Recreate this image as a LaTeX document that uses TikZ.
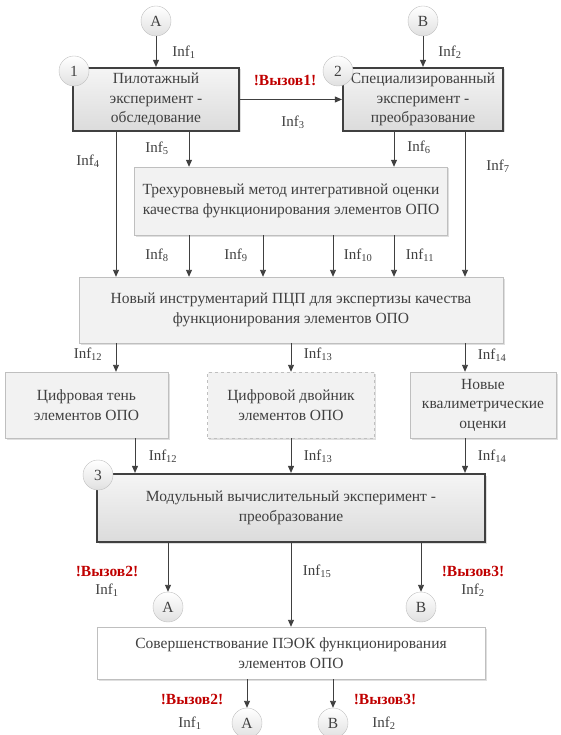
\documentclass[tikz,border=0pt]{standalone}
\usepackage{fontspec}
\setmainfont{Liberation Serif}
\usetikzlibrary{arrows.meta,positioning,shadows}
\definecolor{ink}{HTML}{404040}
\definecolor{frame}{HTML}{BFBFBF}
\definecolor{pale}{HTML}{F2F2F2}
\definecolor{alarm}{HTML}{C00000}
\tikzset{
  >={Triangle[length=7pt,width=6pt]},
  every node/.style={font=\fontsize{15.5}{19.5}\selectfont,text=ink},
  box/.style={draw=frame,fill=pale,align=center,inner sep=3pt,drop shadow={shadow xshift=1.5pt,shadow yshift=-1.5pt,opacity=.25}},
  stagebox/.style={box,draw=ink,line width=2.2pt,top color=white!96!black,bottom color=white!86!black},
  dashbox/.style={box,dashed},
  plainbox/.style={box,fill=white},
  point/.style={circle,draw=frame,minimum size=30pt,inner sep=0pt,top color=white,bottom color=white!88!black},
  arrow/.style={->,draw=ink,line width=0.9pt},
  flowlabel/.style={font=\fontsize{15}{17}\selectfont,inner sep=1pt},
  call/.style={font=\fontsize{15.5}{17}\selectfont\bfseries,text=alarm,inner sep=1pt},
}
\newcommand{\infn}[1]{Inf\textsubscript{#1}}

\begin{document}
\begin{tikzpicture}[x=1pt,y=-1pt]
\useasboundingbox (0,0) rectangle (561,735);

% lanes
\coordinate (lane4) at (116,0);
\coordinate (lane5) at (189,0);
\coordinate (lane9) at (263,0);
\coordinate (lane10) at (333,0);
\coordinate (lane6) at (394,0);
\coordinate (lane7) at (465,0);
\coordinate (lane12) at (135,0);

% experiments 1 and 2
\node[point] (inA) at (156,21) {A};
\node[point] (inB) at (423,21) {B};
\node[stagebox,minimum width=166pt,minimum height=63pt] (pilot) at (156,99.5) {Пилотажный\\ эксперимент -\\ обследование};
\node[stagebox,minimum width=160pt,minimum height=63pt] (spec) at (423,99.5) {Специализированный\\ эксперимент -\\ преобразование};
\node[point] (n1) at (74,71) {1};
\node[point] (n2) at (338,71) {2};

% method and toolkit
\node[box,minimum width=313pt,minimum height=68pt] (method) at (291,201) {Трехуровневый метод интегративной оценки\\ качества функционирования элементов ОПО};
\node[box,minimum width=424pt,minimum height=66pt] (tools) at (291,310) {Новый инструментарий ПЦП для экспертизы качества\\ функционирования элементов ОПО};

% outputs
\node[box,minimum width=163pt,minimum height=66pt] (shadow) at (86.5,405) {Цифровая тень\\ элементов ОПО};
\node[dashbox,minimum width=167pt,minimum height=66pt] (twin) at (291,405) {Цифровой двойник\\ элементов ОПО};
\node[box,minimum width=146pt,minimum height=66pt] (qual) at (483,405) {Новые\\ квалиметрические\\ оценки};

% experiment 3
\node[stagebox,minimum width=388pt,minimum height=68pt] (modul) at (291,508) {Модульный вычислительный эксперимент -\\ преобразование};
\node[point] (n3) at (98,475) {3};
\node[point] (outA) at (168,607) {A};
\node[point] (outB) at (421,607) {B};
\node[plainbox,minimum width=388pt,minimum height=52pt] (impr) at (291,653) {Совершенствование ПЭОК функционирования\\ элементов ОПО};
\node[point] (endA) at (247,723) {A};
\node[point] (endB) at (333,723) {B};

% connectors
\draw[arrow] (inA) -- (pilot);
\draw[arrow] (inB) -- (spec);
\draw[arrow] (pilot) -- (spec);
\draw[arrow] (pilot.south -| lane4) -- (tools.north -| lane4);
\draw[arrow] (pilot.south -| lane5) -- (method.north -| lane5);
\draw[arrow] (spec.south -| lane6) -- (method.north -| lane6);
\draw[arrow] (spec.south -| lane7) -- (tools.north -| lane7);
\foreach \l in {lane5,lane9,lane10,lane6}
  \draw[arrow] (method.south -| \l) -- (tools.north -| \l);
\draw[arrow] (tools.south -| lane4) -- (shadow.north -| lane4);
\draw[arrow] (tools) -- (twin);
\draw[arrow] (tools.south -| lane7) -- (qual.north -| lane7);
\draw[arrow] (shadow.south -| lane12) -- (modul.north -| lane12);
\draw[arrow] (twin) -- (modul);
\draw[arrow] (qual.south -| lane7) -- (modul.north -| lane7);
\draw[arrow] (modul.south -| outA) -- (outA);
\draw[arrow] (modul) -- (impr);
\draw[arrow] (modul.south -| outB) -- (outB);
\draw[arrow] (impr.south -| endA) -- (endA);
\draw[arrow] (impr.south -| endB) -- (endB);

% labels
\node[flowlabel] (l1) at (184,52) {\infn{1}};
\node[flowlabel] (l2) at (450,52) {\infn{2}};
\node[call] (v1) at (285,80) {!Вызов1!};
\node[flowlabel] (l3) at (293,122) {\infn{3}};
\node[flowlabel] (l4) at (88,161) {\infn{4}};
\node[flowlabel] (l5) at (157,148) {\infn{5}};
\node[flowlabel] (l6) at (419,147) {\infn{6}};
\node[flowlabel] (l7) at (498,166) {\infn{7}};
\node[flowlabel] (l8) at (157,255) {\infn{8}};
\node[flowlabel] (l9) at (236,255) {\infn{9}};
\node[flowlabel] (l10) at (358,255) {\infn{10}};
\node[flowlabel] (l11) at (420,255) {\infn{11}};
\node[flowlabel] (l12a) at (88,354) {\infn{12}};
\node[flowlabel] (l13a) at (318,354) {\infn{13}};
\node[flowlabel] (l14a) at (492,355) {\infn{14}};
\node[flowlabel] (l12b) at (163,456) {\infn{12}};
\node[flowlabel] (l13b) at (318,456) {\infn{13}};
\node[flowlabel] (l14b) at (492,456) {\infn{14}};
\node[call] (v2a) at (107,571) {!Вызов2!};
\node[flowlabel] (l1a) at (107,590) {\infn{1}};
\node[flowlabel] (l15) at (317,571) {\infn{15}};
\node[call] (v3a) at (473,571) {!Вызов3!};
\node[flowlabel] (l2a) at (473,590) {\infn{2}};
\node[call] (v2b) at (192,699) {!Вызов2!};
\node[flowlabel] (l1b) at (190,723) {\infn{1}};
\node[call] (v3b) at (385,699) {!Вызов3!};
\node[flowlabel] (l2b) at (384,723) {\infn{2}};

\end{tikzpicture}
\end{document}
